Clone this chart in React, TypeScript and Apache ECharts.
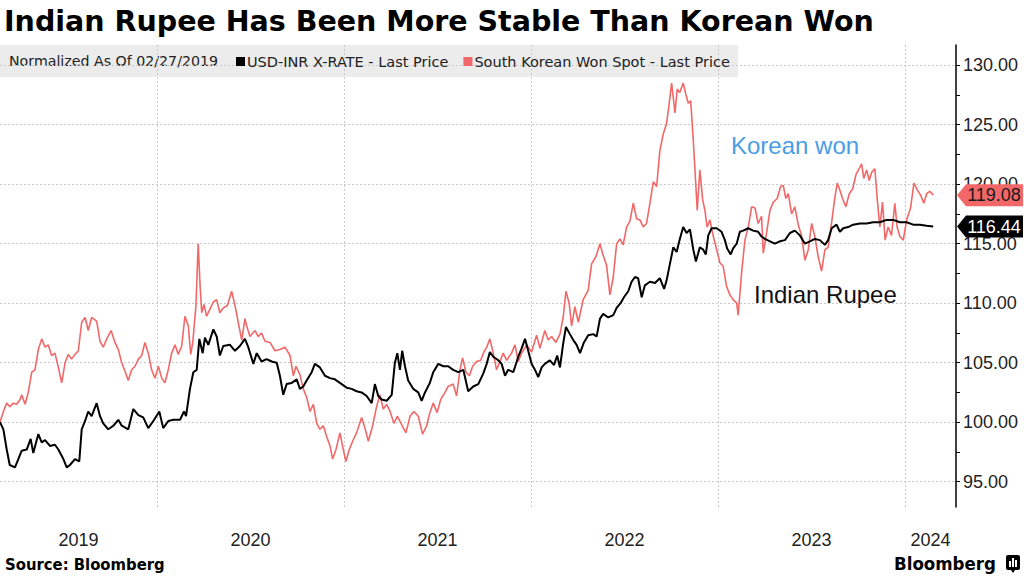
import React, { useEffect, useRef } from 'react';
import * as echarts from 'echarts';

// [decimal year, normalized value]
const inrPoints: [number, number][] = [
  [2019.160, 100.0], [2019.178, 99.4], [2019.196, 97.7], [2019.212, 96.4], [2019.240, 96.2], [2019.258, 96.9],
  [2019.276, 97.6], [2019.303, 97.7], [2019.324, 98.6], [2019.338, 97.4], [2019.365, 99.0], [2019.383, 98.3],
  [2019.401, 98.5], [2019.427, 98.0], [2019.454, 98.1], [2019.472, 97.7], [2019.499, 96.9], [2019.517, 96.2],
  [2019.534, 96.4], [2019.561, 96.9], [2019.584, 96.7], [2019.597, 99.4], [2019.615, 100.1], [2019.632, 100.9],
  [2019.650, 100.5], [2019.677, 101.6], [2019.695, 100.5], [2019.712, 99.9], [2019.739, 99.4], [2019.766, 99.7],
  [2019.793, 100.2], [2019.811, 99.7], [2019.846, 99.4], [2019.873, 101.1], [2019.900, 100.6], [2019.926, 100.4],
  [2019.953, 99.5], [2019.980, 100.1], [2020.012, 100.9], [2020.033, 99.5], [2020.060, 100.1], [2020.087, 100.2],
  [2020.123, 100.2], [2020.144, 100.9], [2020.155, 100.5], [2020.176, 102.8], [2020.194, 104.2], [2020.212, 104.4],
  [2020.226, 107.0], [2020.244, 105.8], [2020.256, 107.1], [2020.274, 106.5], [2020.301, 107.8], [2020.319, 107.2],
  [2020.336, 105.6], [2020.354, 106.4], [2020.390, 106.5], [2020.417, 106.0], [2020.443, 106.4], [2020.470, 107.0],
  [2020.488, 106.3], [2020.515, 104.9], [2020.533, 105.8], [2020.559, 105.1], [2020.586, 105.3], [2020.613, 105.1],
  [2020.640, 105.0], [2020.657, 103.9], [2020.675, 102.3], [2020.693, 103.2], [2020.720, 103.3], [2020.747, 103.6],
  [2020.764, 102.8], [2020.782, 103.0], [2020.800, 103.5], [2020.827, 104.2], [2020.844, 104.9], [2020.871, 104.6],
  [2020.898, 103.9], [2020.925, 103.7], [2020.951, 103.6], [2020.978, 103.3], [2021.014, 102.9], [2021.041, 102.8],
  [2021.067, 102.6], [2021.094, 102.5], [2021.121, 102.2], [2021.148, 101.6], [2021.165, 103.2], [2021.183, 102.2],
  [2021.201, 101.9], [2021.228, 101.8], [2021.255, 102.3], [2021.272, 105.0], [2021.285, 105.8], [2021.299, 104.4],
  [2021.311, 106.0], [2021.326, 104.7], [2021.343, 103.5], [2021.370, 102.8], [2021.397, 102.5], [2021.415, 101.8],
  [2021.433, 102.5], [2021.459, 103.3], [2021.477, 104.2], [2021.504, 104.9], [2021.531, 104.7], [2021.557, 104.7],
  [2021.584, 104.4], [2021.611, 104.2], [2021.638, 104.4], [2021.664, 102.6], [2021.691, 103.0], [2021.718, 103.2],
  [2021.745, 104.1], [2021.763, 104.9], [2021.780, 105.9], [2021.798, 105.5], [2021.825, 105.2], [2021.843, 104.9],
  [2021.861, 103.9], [2021.878, 104.4], [2021.905, 104.2], [2021.932, 105.5], [2021.950, 106.2], [2021.968, 107.0],
  [2021.985, 106.0], [2022.003, 104.9], [2022.021, 104.4], [2022.039, 103.8], [2022.057, 104.6], [2022.074, 104.9],
  [2022.101, 105.2], [2022.123, 104.8], [2022.140, 105.6], [2022.155, 104.6], [2022.172, 106.6], [2022.187, 108.0],
  [2022.208, 107.4], [2022.226, 106.9], [2022.244, 106.5], [2022.262, 105.8], [2022.283, 106.7], [2022.306, 107.3],
  [2022.333, 107.4], [2022.351, 107.2], [2022.369, 108.7], [2022.386, 109.1], [2022.413, 108.8], [2022.440, 109.0],
  [2022.458, 109.6], [2022.479, 110.0], [2022.497, 110.5], [2022.520, 111.0], [2022.538, 111.8], [2022.556, 112.2],
  [2022.573, 112.1], [2022.592, 110.5], [2022.609, 111.5], [2022.636, 111.8], [2022.663, 111.7], [2022.689, 112.1],
  [2022.712, 111.2], [2022.725, 111.9], [2022.743, 113.3], [2022.761, 114.7], [2022.779, 114.3], [2022.796, 115.4],
  [2022.814, 116.4], [2022.832, 115.9], [2022.850, 116.2], [2022.868, 114.5], [2022.882, 113.5], [2022.903, 114.7],
  [2022.921, 114.5], [2022.935, 114.1], [2022.948, 115.7], [2022.966, 116.3], [2022.993, 116.3], [2023.019, 116.0],
  [2023.037, 115.3], [2023.049, 114.6], [2023.068, 114.1], [2023.081, 114.6], [2023.100, 115.0], [2023.117, 116.0],
  [2023.135, 116.1], [2023.162, 116.3], [2023.188, 116.1], [2023.215, 116.0], [2023.233, 115.6], [2023.251, 115.4],
  [2023.278, 115.2], [2023.304, 115.0], [2023.331, 115.2], [2023.358, 115.3], [2023.385, 115.9], [2023.411, 116.1],
  [2023.438, 115.7], [2023.465, 115.0], [2023.492, 115.2], [2023.518, 115.4], [2023.545, 115.3], [2023.572, 114.9],
  [2023.589, 115.3], [2023.608, 116.3], [2023.634, 116.6], [2023.652, 116.0], [2023.670, 116.3], [2023.696, 116.4],
  [2023.723, 116.6], [2023.759, 116.7], [2023.795, 116.7], [2023.830, 116.8], [2023.866, 116.8], [2023.902, 117.0],
  [2023.937, 117.0], [2023.973, 116.8], [2024.009, 116.8], [2024.044, 116.6], [2024.080, 116.6], [2024.116, 116.5],
  [2024.151, 116.44],
];

const krwPoints: [number, number][] = [
  [2019.160, 100.0], [2019.178, 100.9], [2019.196, 101.6], [2019.213, 101.3], [2019.231, 101.6], [2019.249, 101.5],
  [2019.267, 101.9], [2019.276, 102.3], [2019.294, 101.5], [2019.311, 102.5], [2019.330, 104.2], [2019.347, 104.4],
  [2019.365, 106.1], [2019.383, 107.0], [2019.401, 106.3], [2019.418, 106.5], [2019.436, 105.6], [2019.454, 105.8],
  [2019.472, 104.6], [2019.490, 103.3], [2019.508, 105.0], [2019.525, 105.7], [2019.543, 105.3], [2019.561, 105.7],
  [2019.579, 106.0], [2019.597, 108.4], [2019.615, 108.8], [2019.632, 107.7], [2019.650, 108.8], [2019.677, 108.5],
  [2019.695, 106.8], [2019.712, 106.3], [2019.731, 107.0], [2019.754, 107.7], [2019.775, 106.7], [2019.793, 106.1],
  [2019.811, 105.0], [2019.828, 104.3], [2019.846, 103.5], [2019.864, 104.4], [2019.882, 104.7], [2019.900, 105.3],
  [2019.918, 105.6], [2019.935, 106.7], [2019.953, 105.8], [2019.971, 104.4], [2019.989, 103.7], [2020.007, 104.7],
  [2020.025, 103.7], [2020.042, 103.3], [2020.060, 104.4], [2020.078, 105.8], [2020.096, 106.5], [2020.113, 105.7],
  [2020.132, 106.4], [2020.149, 108.9], [2020.167, 108.1], [2020.180, 105.7], [2020.191, 106.7], [2020.208, 109.8],
  [2020.220, 115.0], [2020.230, 111.5], [2020.239, 109.2], [2020.251, 109.9], [2020.265, 108.9], [2020.283, 109.5],
  [2020.301, 110.1], [2020.319, 110.3], [2020.336, 109.2], [2020.354, 109.6], [2020.376, 109.8], [2020.399, 111.0],
  [2020.417, 109.8], [2020.434, 108.4], [2020.453, 106.9], [2020.470, 108.7], [2020.479, 108.1], [2020.497, 107.2],
  [2020.524, 107.7], [2020.541, 107.2], [2020.559, 107.5], [2020.577, 106.8], [2020.604, 106.7], [2020.631, 106.0],
  [2020.657, 106.1], [2020.684, 106.3], [2020.711, 105.6], [2020.729, 103.9], [2020.743, 104.7], [2020.764, 104.0],
  [2020.782, 102.8], [2020.800, 102.1], [2020.818, 100.9], [2020.836, 101.5], [2020.854, 99.9], [2020.871, 99.4],
  [2020.889, 99.7], [2020.907, 98.8], [2020.925, 98.0], [2020.939, 96.9], [2020.957, 97.7], [2020.978, 99.1],
  [2020.996, 97.7], [2021.010, 96.7], [2021.028, 97.7], [2021.049, 98.5], [2021.067, 99.1], [2021.094, 100.4],
  [2021.112, 99.5], [2021.130, 98.4], [2021.153, 99.7], [2021.174, 101.3], [2021.192, 102.3], [2021.210, 101.1],
  [2021.228, 101.5], [2021.246, 100.9], [2021.267, 99.9], [2021.285, 100.5], [2021.308, 99.8], [2021.331, 99.1],
  [2021.353, 100.5], [2021.374, 100.9], [2021.397, 100.5], [2021.420, 99.0], [2021.442, 99.7], [2021.459, 100.8],
  [2021.477, 101.6], [2021.498, 100.8], [2021.517, 101.9], [2021.540, 102.5], [2021.557, 103.0], [2021.584, 103.2],
  [2021.602, 102.2], [2021.620, 104.4], [2021.634, 105.4], [2021.652, 104.2], [2021.670, 103.9], [2021.688, 104.7],
  [2021.709, 105.1], [2021.731, 105.2], [2021.745, 105.8], [2021.763, 106.3], [2021.780, 107.0], [2021.798, 105.8],
  [2021.816, 104.4], [2021.834, 105.1], [2021.851, 105.8], [2021.870, 105.2], [2021.896, 105.8], [2021.914, 106.5],
  [2021.932, 105.1], [2021.950, 105.8], [2021.977, 106.5], [2022.003, 105.9], [2022.030, 107.3], [2022.048, 106.2],
  [2022.074, 107.7], [2022.092, 106.9], [2022.110, 107.2], [2022.133, 106.7], [2022.155, 107.4], [2022.172, 108.8],
  [2022.187, 111.0], [2022.204, 110.0], [2022.217, 108.1], [2022.235, 109.7], [2022.253, 108.4], [2022.279, 110.3],
  [2022.306, 111.1], [2022.324, 113.3], [2022.347, 113.9], [2022.369, 115.0], [2022.386, 114.0], [2022.404, 113.2],
  [2022.422, 110.7], [2022.440, 112.2], [2022.458, 115.0], [2022.476, 115.4], [2022.493, 114.9], [2022.511, 116.4],
  [2022.529, 116.9], [2022.547, 118.4], [2022.565, 117.1], [2022.583, 117.0], [2022.600, 116.4], [2022.618, 116.7],
  [2022.636, 118.4], [2022.654, 120.2], [2022.672, 119.8], [2022.689, 122.8], [2022.707, 124.2], [2022.725, 125.1],
  [2022.739, 126.8], [2022.752, 128.5], [2022.770, 126.0], [2022.782, 128.0], [2022.796, 127.7], [2022.814, 128.5],
  [2022.829, 127.5], [2022.841, 126.8], [2022.854, 127.0], [2022.868, 123.7], [2022.877, 121.2], [2022.889, 117.8],
  [2022.903, 121.2], [2022.918, 118.7], [2022.930, 117.8], [2022.942, 116.4], [2022.957, 117.0], [2022.975, 115.6],
  [2022.993, 114.5], [2023.010, 113.4], [2023.028, 113.1], [2023.046, 111.4], [2023.064, 110.7], [2023.081, 110.3],
  [2023.100, 110.0], [2023.108, 109.0], [2023.126, 112.5], [2023.144, 115.3], [2023.162, 116.4], [2023.180, 118.1],
  [2023.198, 118.0], [2023.215, 116.7], [2023.233, 117.3], [2023.242, 114.2], [2023.260, 115.9], [2023.278, 117.8],
  [2023.296, 118.5], [2023.317, 118.8], [2023.335, 119.8], [2023.349, 119.9], [2023.363, 118.8], [2023.376, 119.2],
  [2023.394, 117.5], [2023.411, 118.1], [2023.429, 116.6], [2023.447, 115.7], [2023.465, 113.6], [2023.483, 114.5],
  [2023.501, 116.7], [2023.518, 115.6], [2023.536, 113.9], [2023.554, 112.7], [2023.572, 114.5], [2023.589, 114.7],
  [2023.608, 116.8], [2023.625, 118.9], [2023.638, 120.1], [2023.652, 119.5], [2023.666, 118.8], [2023.684, 118.1],
  [2023.702, 119.2], [2023.720, 119.6], [2023.738, 120.8], [2023.755, 121.3], [2023.768, 121.7], [2023.780, 120.5],
  [2023.795, 121.2], [2023.809, 120.3], [2023.822, 121.0], [2023.839, 121.3], [2023.852, 118.7], [2023.866, 116.4],
  [2023.880, 118.5], [2023.894, 115.3], [2023.910, 116.4], [2023.928, 115.7], [2023.946, 118.4], [2023.958, 116.4],
  [2023.973, 115.6], [2023.991, 115.3], [2024.009, 117.0], [2024.030, 118.0], [2024.048, 120.1], [2024.066, 119.5],
  [2024.083, 119.1], [2024.101, 118.4], [2024.116, 119.2], [2024.133, 119.4], [2024.151, 119.08],
];

// axis layout values
const yearLines = [2020, 2021, 2022, 2023, 2024];
const yearLabelAt = [2019.58, 2020.5, 2021.5, 2022.5, 2023.5, 2024.137];
const priceTicks = [95, 100, 105, 110, 115, 120, 125, 130];
const halfTicks = [97.5, 102.5, 107.5, 112.5, 117.5, 122.5, 127.5];

const X_MIN = 2019.16;
const X_MAX = 2024.273;
const RED = '#f26868';
const AXIS_FONT = '"Liberation Sans", Arial, sans-serif';
const UI_FONT = '"DejaVu Sans", Verdana, sans-serif';
const COND_FONT = '"DejaVu Sans Condensed", "DejaVu Sans", sans-serif';

const INR_NAME = 'USD-INR X-RATE - Last Price';
const KRW_NAME = 'South Korean Won Spot - Last Price';

const tagPath = 'path://M0,11L9,0L66,0L66,22L9,22Z';

const lastTag = (value: number, bg: string, fg: string) => ({
  symbol: tagPath,
  symbolSize: [66, 22],
  symbolOffset: [34, 0],
  silent: true,
  itemStyle: { color: bg },
  label: {
    show: true,
    position: 'inside',
    offset: [4, 0],
    formatter: value.toFixed(2),
    color: fg,
    fontSize: 18,
    fontFamily: AXIS_FONT,
  },
  data: [{ coord: [X_MAX, value] }],
});

const App: React.FC = () => {
  const chartRef = useRef<HTMLDivElement>(null);

  useEffect(() => {
    if (!chartRef.current) return;
    const chart = echarts.init(chartRef.current, undefined, { renderer: 'svg' });

    const inrLast = inrPoints[inrPoints.length - 1][1];
    const krwLast = krwPoints[krwPoints.length - 1][1];

    chart.setOption({
      animation: false,
      backgroundColor: '#fff',
      grid: { left: 0, right: 68, top: 45, bottom: 69, outerBoundsMode: 'none' },
      legend: {
        data: [INR_NAME, KRW_NAME],
        left: 236,
        top: 54,
        icon: 'rect',
        itemWidth: 9,
        itemHeight: 9,
        itemGap: 15,
        padding: 0,
        selectedMode: false,
        textStyle: { fontSize: 14.5, fontFamily: UI_FONT, color: '#222', padding: [0, 0, 0, -3] },
      },
      xAxis: {
        type: 'value',
        min: X_MIN,
        max: X_MAX,
        axisLine: { show: false },
        axisTick: { show: false, customValues: yearLines },
        splitLine: { show: true, lineStyle: { color: '#c9c9c9', type: [2, 2], width: 1 } },
        axisLabel: {
          customValues: yearLabelAt,
          formatter: (v: number) => String(Math.floor(v)),
          fontSize: 18,
          fontFamily: AXIS_FONT,
          color: '#222',
          margin: 24,
        },
      },
      yAxis: [
        {
          type: 'value',
          position: 'right',
          min: 92.87,
          max: 131.7,
          axisLine: { show: true, lineStyle: { color: '#000', width: 1.5 } },
          axisTick: { show: true, length: 4, customValues: priceTicks, lineStyle: { color: '#000' } },
          splitLine: { show: true, lineStyle: { color: '#c9c9c9', type: [2, 2], width: 1 } },
          axisLabel: {
            customValues: priceTicks,
            formatter: (v: number) => v.toFixed(2),
            fontSize: 18,
            fontFamily: AXIS_FONT,
            color: '#222',
            margin: 7,
          },
        },
        {
          type: 'value',
          position: 'right',
          min: 92.87,
          max: 131.7,
          axisLine: { show: false },
          axisTick: { show: true, length: 4, customValues: halfTicks, lineStyle: { color: '#000' } },
          splitLine: { show: false },
          axisLabel: { show: false },
        },
      ],
      series: [
        {
          name: KRW_NAME,
          type: 'line',
          data: krwPoints,
          showSymbol: false,
          symbol: 'none',
          color: RED,
          lineStyle: { color: RED, width: 1.6 },
          markPoint: lastTag(krwLast, RED, '#1a1a1a'),
        },
        {
          name: INR_NAME,
          type: 'line',
          data: inrPoints,
          showSymbol: false,
          symbol: 'none',
          color: '#000',
          lineStyle: { color: '#000', width: 2 },
          markPoint: lastTag(inrLast, '#000', '#fff'),
        },
      ],
      graphic: [
        {
          type: 'rect',
          z: -10,
          shape: { x: 0, y: 45, width: 738, height: 32 },
          style: { fill: '#ececec' },
        },
        {
          type: 'text',
          x: 4,
          y: 21,
          style: {
            text: 'Indian Rupee Has Been More Stable Than Korean Won',
            fontSize: 28.5,
            fontWeight: 'bold',
            fontFamily: UI_FONT,
            fill: '#000',
            verticalAlign: 'middle',
          },
        },
        {
          type: 'text',
          x: 9,
          y: 61,
          style: {
            text: 'Normalized As Of 02/27/2019',
            fontSize: 14.2,
            fontFamily: UI_FONT,
            fill: '#222',
            verticalAlign: 'middle',
          },
        },
        {
          type: 'text',
          x: 731,
          y: 145,
          style: {
            text: 'Korean won',
            fontSize: 24,
            fontFamily: AXIS_FONT,
            fill: '#4a9ee3',
            verticalAlign: 'middle',
          },
        },
        {
          type: 'text',
          x: 754,
          y: 294,
          style: {
            text: 'Indian Rupee',
            fontSize: 24,
            fontFamily: AXIS_FONT,
            fill: '#111',
            verticalAlign: 'middle',
          },
        },
        {
          type: 'text',
          x: 5,
          y: 564,
          style: {
            text: 'Source: Bloomberg',
            fontSize: 16.5,
            fontWeight: 'bold',
            fontFamily: COND_FONT,
            fill: '#000',
            verticalAlign: 'middle',
          },
        },
        {
          type: 'text',
          x: 894,
          y: 563,
          style: {
            text: 'Bloomberg',
            fontSize: 18.5,
            fontWeight: 'bold',
            fontFamily: COND_FONT,
            fill: '#000',
            verticalAlign: 'middle',
          },
        },
        {
          type: 'group',
          x: 1006,
          y: 555,
          children: [
            { type: 'rect', shape: { x: 0, y: 0, width: 14, height: 15, r: 2 }, style: { fill: '#000' } },
            { type: 'polygon', shape: { points: [[5, 15], [9, 15], [7, 18]] }, style: { fill: '#000' } },
            { type: 'rect', shape: { x: 3, y: 6, width: 2, height: 6 }, style: { fill: '#fff' } },
            { type: 'rect', shape: { x: 6, y: 3, width: 2, height: 9 }, style: { fill: '#fff' } },
            { type: 'rect', shape: { x: 9, y: 5, width: 2, height: 7 }, style: { fill: '#fff' } },
          ],
        },
      ],
    });

    return () => {
      chart.dispose();
    };
  }, []);

  return (
    <div
      style={{ position: 'fixed', left: 0, top: 0, width: 1024, height: 576, background: '#fff' }}
    >
      <div ref={chartRef} style={{ width: '1024px', height: '576px' }} />
    </div>
  );
};

export default App;
